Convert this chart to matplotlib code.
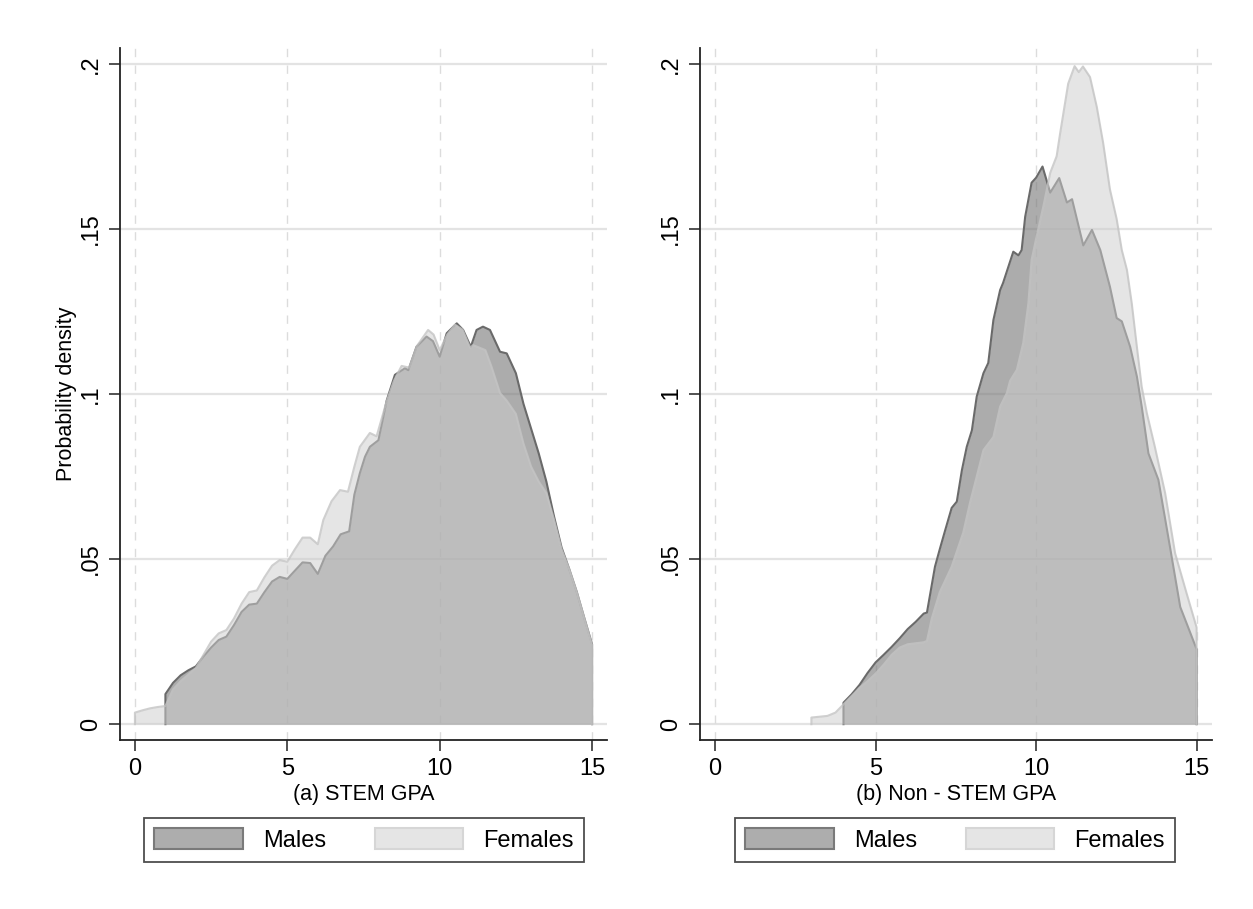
import numpy as np
import matplotlib
matplotlib.use("Agg")
import matplotlib.pyplot as plt
from matplotlib.patches import Patch

plt.rcParams['font.family'] = ['Liberation Sans', 'DejaVu Sans']

# densities (GPA, probability density)
stem_male_x = [1.0, 1.25, 1.5, 1.75, 2.0, 2.25, 2.5, 2.75, 3.0, 3.25, 3.5, 3.75, 4.0,
               4.25, 4.5, 4.75, 5.0, 5.25, 5.5, 5.75, 6.0, 6.25, 6.5, 6.75, 7.03,
               7.2, 7.38, 7.55, 7.71, 7.99, 8.26, 8.53, 8.86, 8.97, 9.24, 9.57, 9.78,
               10.0, 10.23, 10.56, 10.77, 11.02, 11.21, 11.42, 11.65, 11.98, 12.2, 12.5,
               12.75, 13.0, 13.25, 13.5, 13.75, 14.0, 14.25, 14.5, 14.75, 15.0]
stem_male_y = [.0091, .0125, .0148, .0163, .0175, .0205, .0232, .0255, .0265, .030, .034, .0362, .0365,
               .040, .0432, .0446, .044, .0465, .049, .0488, .0455, .051, .0538, .0575, .0584,
               .0695, .076, .081, .084, .086, .098, .1058, .1078, .1072, .1143, .1174, .116,
               .1113, .1184, .1214, .1194, .1143, .1194, .1204, .1194, .1128, .1123, .1063,
               .097, .0895, .082, .0735, .063, .0535, .047, .040, .032, .0242]

stem_female_x = [0.0, 0.25, 0.5, 0.75, 1.0, 1.25, 1.5, 1.75, 2.0, 2.25, 2.5, 2.75, 3.0,
                 3.25, 3.5, 3.75, 4.0, 4.25, 4.5, 4.75, 5.0, 5.25, 5.5, 5.75, 6.0,
                 6.18, 6.45, 6.73, 6.99, 7.2, 7.38, 7.71, 7.93, 8.25, 8.5, 8.75, 9.0,
                 9.25, 9.62, 9.8, 10.0, 10.25, 10.5, 10.75, 11.0, 11.1, 11.5, 11.7,
                 11.98, 12.2, 12.5, 12.75, 13.0, 13.25, 13.5, 13.75, 14.0, 14.25, 14.5,
                 14.75, 15.0]
stem_female_y = [.0035, .0042, .0048, .0052, .0055, .0105, .0130, .0150, .0170, .021, .025, .0275, .0285,
                 .032, .0365, .040, .0405, .0445, .048, .0497, .0492, .053, .0565, .0565, .0545,
                 .0618, .0675, .0709, .0704, .078, .084, .0882, .0872, .0975, .104, .1085, .108,
                 .1145, .1194, .118, .1133, .118, .121, .1195, .114, .1148, .1133, .1083,
                 .1003, .098, .094, .085, .078, .0735, .070, .062, .053, .047, .040,
                 .032, .024]

nonstem_male_x = [4.0, 4.25, 4.5, 4.75, 5.0, 5.25, 5.5, 5.75, 6.0, 6.25, 6.5, 6.6, 6.85,
                  7.0, 7.17, 7.37, 7.53, 7.69, 7.84, 8.0, 8.15, 8.36, 8.51, 8.67, 8.88,
                  8.97, 9.29, 9.45, 9.55, 9.66, 9.86, 10.0, 10.2, 10.44, 10.72, 10.96,
                  11.12, 11.47, 11.74, 12.0, 12.3, 12.51, 12.67, 12.93, 13.14, 13.29,
                  13.5, 13.81, 14.17, 14.49, 14.75, 15.0]
nonstem_male_y = [.0065, .009, .0119, .0155, .0187, .021, .0234, .026, .0288, .031, .0335, .0338, .0477,
                  .053, .0588, .0655, .0674, .077, .084, .089, .0992, .1063, .1094, .1224, .1315,
                  .1336, .1431, .142, .1436, .1537, .164, .1655, .1689, .161, .1654, .158,
                  .159, .145, .1497, .1436, .1325, .123, .122, .1143, .1053, .0962,
                  .082, .074, .0537, .0355, .029, .0227]

nonstem_female_x = [3.0, 3.5, 3.75, 4.0, 4.25, 4.5, 4.75, 5.0, 5.25, 5.5, 5.75, 6.0, 6.25,
                    6.5, 6.6, 6.75, 7.0, 7.37, 7.73, 7.94, 8.15, 8.36, 8.67, 8.88, 9.09,
                    9.19, 9.4, 9.6, 9.76, 9.86, 10.0, 10.23, 10.44, 10.64, 10.75, 11.0,
                    11.2, 11.33, 11.46, 11.68, 11.89, 12.09, 12.3, 12.51, 12.67, 12.83,
                    12.98, 13.14, 13.29, 13.45, 13.7, 14.02, 14.33, 14.69, 15.0]
nonstem_female_y = [.002, .0025, .0035, .006, .0085, .011, .013, .0153, .018, .021, .0232, .0242, .0245,
                    .0248, .0252, .032, .040, .0477, .058, .067, .075, .083, .087, .0962, .1003,
                    .104, .1073, .1155, .1275, .1406, .147, .157, .167, .172, .179, .194,
                    .1993, .1975, .1992, .196, .187, .176, .162, .153, .1436, .1376,
                    .1275, .1143, .1022, .0942, .084, .070, .0518, .0396, .0293]

xlabels = ["(a) STEM GPA", "(b) Non - STEM GPA"]
yticks = [0, .05, .1, .15, .2]
ytick_labels = ["0", ".05", ".1", ".15", ".2"]
xticks = [0, 5, 10, 15]

male_face = '#757575'
male_alpha = 0.6
male_edge = '#6a6a6a'
female_face = '#cecece'
female_alpha = 0.53
female_edge = '#c4c4c4'


def outline(x, y):
    # close down to the baseline at both ends like the area plot does
    return [x[0]] + list(x) + [x[-1]], [0] + list(y) + [0]


fig = plt.figure(figsize=(12.53, 9.09), dpi=100)
ax1 = fig.add_axes([120 / 1253, 1 - 740 / 909, 487 / 1253, 692 / 909])
ax2 = fig.add_axes([700 / 1253, 1 - 740 / 909, 512 / 1253, 692 / 909])

panels = [
    (ax1, stem_male_x, stem_male_y, stem_female_x, stem_female_y, xlabels[0]),
    (ax2, nonstem_male_x, nonstem_male_y, nonstem_female_x, nonstem_female_y, xlabels[1]),
]

for ax, mx, my, fx, fy, lab in panels:
    for yv in yticks:
        ax.axhline(yv, color='#e3e3e3', lw=1.6, zorder=0)
    for xv in xticks:
        ax.axvline(xv, color='#dcdcdc', lw=1.0, ls=(0, (6, 6)), zorder=0)

    ax.fill_between(mx, my, 0, color=male_face, alpha=male_alpha, lw=0, zorder=2)
    ox, oy = outline(mx, my)
    ax.plot(ox, oy, color=male_edge, lw=1.5, zorder=3)

    ax.fill_between(fx, fy, 0, color=female_face, alpha=female_alpha, lw=0, zorder=4)
    ox, oy = outline(fx, fy)
    ax.plot(ox, oy, color=female_edge, lw=1.5, alpha=0.8, zorder=5)

    ax.set_ylim(-0.0048, 0.2048)
    ax.set_yticks(yticks)
    ax.set_yticklabels(ytick_labels, rotation=90, va='center')
    ax.set_xticks(xticks)
    ax.set_xlabel(lab, fontsize=15.5, labelpad=3)
    ax.tick_params(labelsize=17, length=8, width=1.2, color='#333333', pad=5)
    for s in ['top', 'right']:
        ax.spines[s].set_visible(False)
    ax.spines['left'].set_color('#222222')
    ax.spines['left'].set_linewidth(1.3)
    ax.spines['bottom'].set_color('#222222')
    ax.spines['bottom'].set_linewidth(1.3)

ax1.set_xlim(-0.49, 15.49)
ax2.set_xlim(-0.47, 15.48)
ax1.set_ylabel("Probability density", fontsize=15.5, labelpad=2)

handles = [
    Patch(facecolor='#adadad', edgecolor='#7a7a7a', lw=1.5, label='Males'),
    Patch(facecolor='#e5e5e5', edgecolor='#d6d6d6', lw=1.5, label='Females'),
]
for cx in [364 / 1253, 955 / 1253]:
    leg = fig.legend(handles=handles, loc='center', bbox_to_anchor=(cx, 1 - 840 / 909),
                     ncol=2, fontsize=17, frameon=True, fancybox=False,
                     handlelength=3.73, handleheight=0.95, handletextpad=0.85,
                     columnspacing=2.08, borderpad=0.45)
    leg.get_frame().set_edgecolor('#222222')
    leg.get_frame().set_linewidth(1.3)

fig.savefig('out.png', dpi=100, facecolor='white')
